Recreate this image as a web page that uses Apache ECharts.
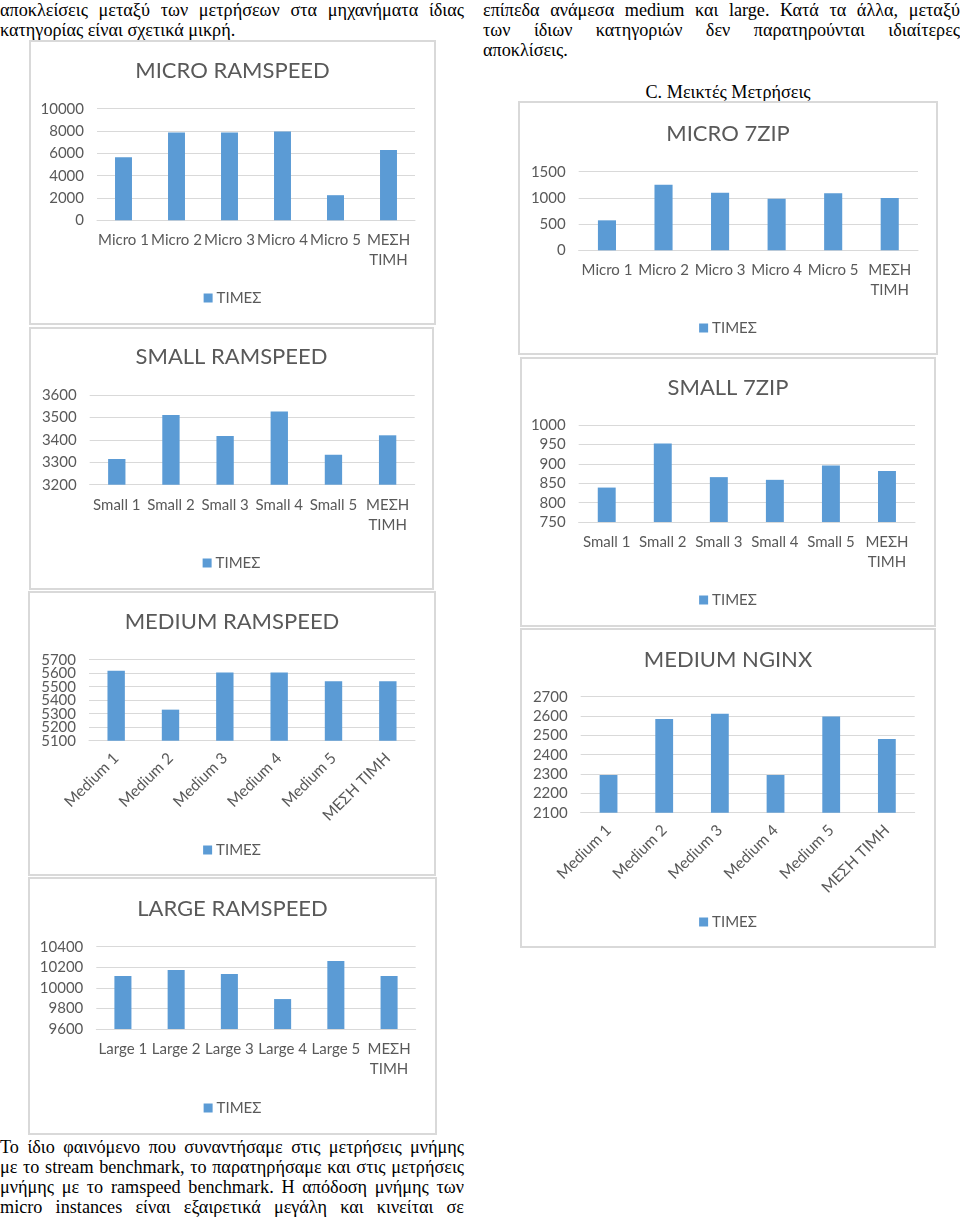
<!DOCTYPE html>
<html>
<head>
<meta charset="utf-8">
<script src="https://cdn.jsdelivr.net/npm/echarts@6/dist/echarts.min.js"></script>
<style>
  html, body { margin: 0; padding: 0; background: #fff; }
  body { width: 960px; height: 1221px; position: relative; overflow: hidden; }
  .line { position: absolute; font-family: "Liberation Serif", "Times New Roman", serif; font-size: 18.2px; line-height: 20px; color: #000; white-space: nowrap; }
  .just { text-align: justify; text-align-last: justify; white-space: normal; }
  .box { position: absolute; box-sizing: border-box; border: 2px solid #d9d9d9; background: #fff; }
  .inner { position: absolute; left: 0; top: 0; right: 0; bottom: 0; }
</style>
</head>
<body>
<div class="line just" style="left:0;top:0;width:464px;">αποκλείσεις μεταξύ των μετρήσεων στα μηχανήματα ίδιας</div>
<div class="line" style="left:0;top:20px;">κατηγορίας είναι σχετικά μικρή.</div>

<div class="line just" style="left:483px;top:0;width:477px;">επίπεδα ανάμεσα medium και large. Κατά τα άλλα, μεταξύ</div>
<div class="line just" style="left:483px;top:20px;width:477px;">των ίδιων κατηγοριών δεν παρατηρούνται ιδιαίτερες</div>
<div class="line" style="left:483px;top:40px;">αποκλίσεις.</div>
<div class="line" style="left:483px;top:82px;width:490px;text-align:center;">C. Μεικτές Μετρήσεις</div>

<div class="line just" style="left:0;top:1137px;width:464px;">Το ίδιο φαινόμενο που συναντήσαμε στις μετρήσεις μνήμης</div>
<div class="line just" style="left:0;top:1157px;width:464px;">με το stream benchmark, το παρατηρήσαμε και στις μετρήσεις</div>
<div class="line just" style="left:0;top:1177px;width:464px;">μνήμης με το ramspeed benchmark. Η απόδοση μνήμης των</div>
<div class="line just" style="left:0;top:1197px;width:464px;">micro instances είναι εξαιρετικά μεγάλη και κινείται σε</div>

<script>
// ---------- DATA ----------
const seriesName = 'ΤΙΜΕΣ';
const microCats  = ['Micro 1', 'Micro 2', 'Micro 3', 'Micro 4', 'Micro 5', 'ΜΕΣΗ ΤΙΜΗ'];
const smallCats  = ['Small 1', 'Small 2', 'Small 3', 'Small 4', 'Small 5', 'ΜΕΣΗ ΤΙΜΗ'];
const mediumCats = ['Medium 1', 'Medium 2', 'Medium 3', 'Medium 4', 'Medium 5', 'ΜΕΣΗ ΤΙΜΗ'];
const largeCats  = ['Large 1', 'Large 2', 'Large 3', 'Large 4', 'Large 5', 'ΜΕΣΗ ΤΙΜΗ'];

const microRamspeed  = [5650, 7870, 7870, 7950, 2250, 6300];
const micro7zip      = [572, 1252, 1100, 985, 1087, 999];
const smallRamspeed  = [3315, 3512, 3418, 3528, 3334, 3421];
const small7zip      = [839, 953, 866, 859, 896, 882];
const mediumRamspeed = [5619, 5330, 5606, 5606, 5540, 5540];
const mediumNginx    = [2295, 2585, 2612, 2295, 2598, 2481];
const largeRamspeed  = [10115, 10173, 10134, 9891, 10261, 10115];

// y-axis ticks: [min, max, interval]
const microRamspeedTicks  = [0, 10000, 2000];
const micro7zipTicks      = [0, 1500, 500];
const smallRamspeedTicks  = [3200, 3600, 100];
const small7zipTicks      = [750, 1000, 50];
const mediumRamspeedTicks = [5100, 5700, 100];
const mediumNginxTicks    = [2100, 2700, 100];
const largeRamspeedTicks  = [9600, 10400, 200];

// ---------- LAYOUT ----------
const charts = [
  { title: 'MICRO RAMSPEED', cats: microCats, data: microRamspeed, ticks: microRamspeedTicks,
    box: [29, 40, 407, 285], titleY: 31, grid: [68, 68.7, 21, 104.7], legendY: 258, rotate: 0 },
  { title: 'MICRO 7ZIP', cats: microCats, data: micro7zip, ticks: micro7zipTicks,
    box: [518, 101, 420, 254], titleY: 33, grid: [60.7, 70.7, 20, 104.7], legendY: 227, rotate: 0 },
  { title: 'SMALL RAMSPEED', cats: smallCats, data: smallRamspeed, ticks: smallRamspeedTicks,
    box: [29, 327, 405, 263], titleY: 30, grid: [60.7, 68.3, 19.3, 105.3], legendY: 236, rotate: 0 },
  { title: 'SMALL 7ZIP', cats: smallCats, data: small7zip, ticks: small7zipTicks,
    box: [520, 357, 416, 270], titleY: 31, grid: [58.7, 68.3, 21, 105], legendY: 243, rotate: 0 },
  { title: 'MEDIUM RAMSPEED', cats: mediumCats, data: mediumRamspeed, ticks: mediumRamspeedTicks,
    box: [28, 591, 408, 285], titleY: 31, grid: [61, 68.7, 21, 135.3], legendY: 259, rotate: 45 },
  { title: 'MEDIUM NGINX', cats: mediumCats, data: mediumNginx, ticks: mediumNginxTicks,
    box: [520, 628, 416, 320], titleY: 32, grid: [60.7, 68.7, 21.3, 135.3], legendY: 294, rotate: 45 },
  { title: 'LARGE RAMSPEED', cats: largeCats, data: largeRamspeed, ticks: largeRamspeedTicks,
    box: [28, 877, 409, 258], titleY: 32, grid: [68.3, 69.7, 21.3, 106], legendY: 231, rotate: 0 }
];

const FONT = 'Lato, "Open Sans", sans-serif';
const TXT = '#595959';
const BAR = '#5b9bd5';
const GRID = '#d9d9d9';
const B = 2; // border width

charts.forEach(c => {
  const box = document.createElement('div');
  box.className = 'box';
  box.style.left = c.box[0] + 'px';
  box.style.top = c.box[1] + 'px';
  box.style.width = c.box[2] + 'px';
  box.style.height = c.box[3] + 'px';
  const inner = document.createElement('div');
  inner.className = 'inner';
  box.appendChild(inner);
  document.body.appendChild(box);
  const chart = echarts.init(inner, null, { renderer: 'canvas' });
  const rot = c.rotate;
  const gl = c.grid[0] - B;
  chart.setOption({
    animation: false,
    textStyle: { fontFamily: FONT },
    title: {
      text: c.title, left: 'center', top: c.titleY - B - 13, padding: 0,
      textStyle: { fontFamily: FONT, fontSize: 22, fontWeight: 'normal', color: TXT, lineHeight: 26 }
    },
    legend: {
      data: [seriesName], left: 'center', top: c.legendY - B - 9, padding: 0,
      itemWidth: 9, itemHeight: 9, itemGap: 5, icon: 'rect',
      textStyle: { fontFamily: FONT, fontSize: 15, color: TXT, lineHeight: 18, padding: [0, 0, 0, -1] }
    },
    grid: {
      left: gl, top: c.grid[1] - B, right: c.grid[2] - B, bottom: c.grid[3] - B,
      containLabel: false, outerBoundsMode: 'none'
    },
    xAxis: {
      type: 'category', data: c.cats,
      axisTick: { show: false },
      axisLine: { lineStyle: { color: GRID, width: 1 } },
      axisLabel: {
        interval: 0, color: TXT, fontFamily: FONT, fontSize: rot ? 15.5 : 15, lineHeight: 20,
        margin: rot ? 15 : 10, rotate: rot, hideOverlap: false,
        formatter: v => rot ? v : v.replace('ΜΕΣΗ ', 'ΜΕΣΗ\n')
      }
    },
    yAxis: {
      type: 'value', min: c.ticks[0], max: c.ticks[1], interval: c.ticks[2],
      axisLine: { show: false }, axisTick: { show: false },
      splitLine: { lineStyle: { color: GRID, width: 1 } },
      axisLabel: { show: false }
    },
    series: [{
      name: seriesName, type: 'bar', data: c.data, barWidth: '32%',
      itemStyle: { color: BAR }
    }]
  });
  // y-axis tick labels placed through the chart's own value scale
  const labels = [];
  for (let v = c.ticks[0]; v <= c.ticks[1] + 1e-9; v += c.ticks[2]) {
    const y = chart.convertToPixel({ yAxisIndex: 0 }, v);
    labels.push({
      type: 'text', x: gl - 13, y: y,
      style: { text: String(v), fill: TXT, font: '15px ' + FONT, textAlign: 'right', textVerticalAlign: 'middle' },
      silent: true
    });
  }
  chart.setOption({ graphic: labels });
});
</script>
</body>
</html>
